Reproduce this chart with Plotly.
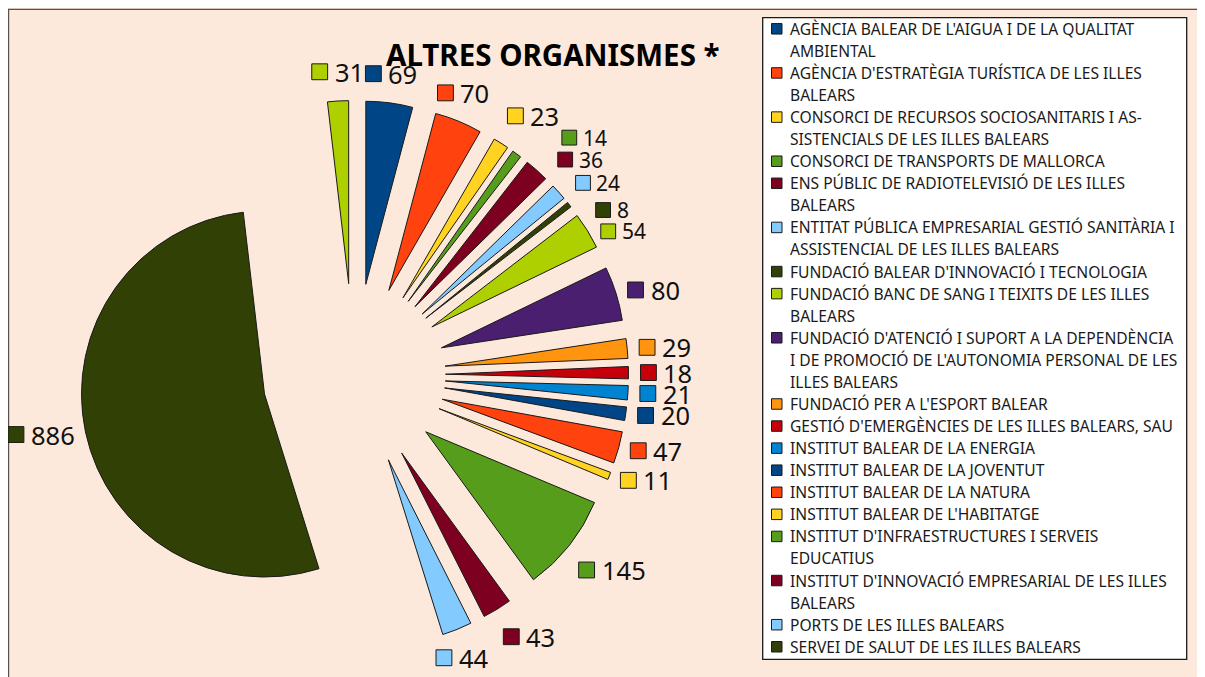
import math
import plotly.graph_objects as go

# ---------------- data ----------------
title_text = "ALTRES ORGANISMES *"

categories = [
    "AGÈNCIA BALEAR DE L'AIGUA I DE LA QUALITAT<br>AMBIENTAL",
    "AGÈNCIA D'ESTRATÈGIA TURÍSTICA DE LES ILLES<br>BALEARS",
    "CONSORCI DE RECURSOS SOCIOSANITARIS I AS-<br>SISTENCIALS DE LES ILLES BALEARS",
    "CONSORCI DE TRANSPORTS DE MALLORCA",
    "ENS PÚBLIC DE RADIOTELEVISIÓ DE LES ILLES<br>BALEARS",
    "ENTITAT PÚBLICA EMPRESARIAL GESTIÓ SANITÀRIA I<br>ASSISTENCIAL DE LES ILLES BALEARS",
    "FUNDACIÓ BALEAR D'INNOVACIÓ I TECNOLOGIA",
    "FUNDACIÓ BANC DE SANG I TEIXITS DE LES ILLES<br>BALEARS",
    "FUNDACIÓ D'ATENCIÓ I SUPORT A LA DEPENDÈNCIA<br>I DE PROMOCIÓ DE L'AUTONOMIA PERSONAL DE LES<br>ILLES BALEARS",
    "FUNDACIÓ PER A L'ESPORT BALEAR",
    "GESTIÓ D'EMERGÈNCIES DE LES ILLES BALEARS, SAU",
    "INSTITUT BALEAR DE LA ENERGIA",
    "INSTITUT BALEAR DE LA JOVENTUT",
    "INSTITUT BALEAR DE LA NATURA",
    "INSTITUT BALEAR DE L'HABITATGE",
    "INSTITUT D'INFRAESTRUCTURES I SERVEIS<br>EDUCATIUS",
    "INSTITUT D'INNOVACIÓ EMPRESARIAL DE LES ILLES<br>BALEARS",
    "PORTS DE LES ILLES BALEARS",
    "SERVEI DE SALUT DE LES ILLES BALEARS",
    "SERVEIS DE MILLORA AGRÀRIA I PESQUERA",
]

values = [69, 70, 23, 14, 36, 24, 8, 54, 80, 29, 18, 21, 20, 47, 11, 145, 43, 44, 886, 31]

# ---------------- styles ----------------
palette = ["#004586", "#ff420e", "#ffd320", "#579d1c", "#7e0021", "#83caff",
           "#314004", "#aecf00", "#4b1f6f", "#ff950e", "#c5000b", "#0084d1"]
colors = [palette[i % len(palette)] for i in range(len(values))]

BG = "#fde9db"
EDGE = "#1a1a1a"
FONT = "Noto Sans"
W, H = 1205, 677
OFF = 8  # page offset of the figure inside the browser window

# pie geometry (window pixels)
CX, CY, R, PULL = 354, 375, 183, 0.5
LABEL_GAP = 12

# data-label font sizes and small manual nudges for the crowded group
label_sizes = [25.5, 25.5, 25.5, 21, 21, 21, 21, 21, 25.5, 25.5, 25.5, 25.5, 25.5, 25.5,
               25.5, 25.5, 25.5, 25.5, 25.5, 25.5]
label_nudge = {3: (38, 7.5), 4: (13, 12.5), 5: (8, 13), 6: (17, 27), 7: (3, 21)}


def px(x):
    return (x - OFF) / W


def py(y):
    return 1 - (y - OFF) / H


fig = go.Figure()

half = R * (1 + PULL)
dom_x = [px(CX - half), px(CX + half)]
dom_y = [py(CY + half), py(CY - half)]

plain_labels = [c.replace("-<br>", "").replace("<br>", " ") for c in categories]

fig.add_trace(go.Pie(
    labels=plain_labels,
    values=values,
    sort=False,
    direction="clockwise",
    rotation=0,
    pull=[PULL] * len(values),
    marker=dict(colors=colors, line=dict(color=EDGE, width=1)),
    textinfo="none",
    showlegend=False,
    domain=dict(x=dom_x, y=dom_y),
    hovertemplate="%{label}: %{value}<extra></extra>",
))

shapes = []
annotations = []

# chart frame (left / top border)
shapes.append(dict(type="rect", xref="paper", yref="paper", layer="below",
                   x0=px(8.6), x1=px(W + 40), y0=py(H + 40), y1=py(9.4),
                   fillcolor=BG, line=dict(color="#5a5050", width=1.2)))

# ---------------- data labels ----------------
total = float(sum(values))
cum = 0.0
for i, v in enumerate(values):
    mid = (cum + v / 2) / total * 360.0
    cum += v
    th = math.radians(mid)
    ux, uy = math.sin(th), -math.cos(th)
    rl = R * (1 + PULL) + LABEL_GAP
    ax, ay = CX + rl * ux, CY + rl * uy
    fs = label_sizes[i]
    sq = 10 + 0.23 * fs
    gap = 0.24 * fs
    txt = str(v)
    w = sq + gap + len(txt) * 0.572 * fs
    h = 1.35 * fs
    k = int(((mid + 22.5) % 360) // 45)
    if k == 0:
        left, cy = ax - w / 2, ay - h / 2
    elif k == 1:
        left, cy = ax, ay - h / 2
    elif k == 2:
        left, cy = ax, ay
    elif k == 3:
        left, cy = ax, ay + h / 2
    elif k == 4:
        left, cy = ax - w / 2, ay + h / 2
    elif k == 5:
        left, cy = ax - w, ay + h / 2
    elif k == 6:
        left, cy = ax - w, ay
    else:
        left, cy = ax - w, ay - h / 2
    dx, dy = label_nudge.get(i, (0, 0))
    left += dx
    cy += dy
    shapes.append(dict(type="rect", xref="paper", yref="paper",
                       x0=px(left), x1=px(left + sq), y0=py(cy + sq / 2), y1=py(cy - sq / 2),
                       fillcolor=colors[i], line=dict(color=EDGE, width=1)))
    annotations.append(dict(xref="paper", yref="paper", x=px(left + sq + gap), y=py(cy),
                            xanchor="left", yanchor="middle", text=txt, showarrow=False,
                            font=dict(family=FONT, size=fs, color="#111111"),
                            borderpad=0))

# ---------------- title ----------------
annotations.append(dict(xref="paper", yref="paper", x=px(552.5), y=py(55),
                        xanchor="center", yanchor="middle",
                        text="<b>" + title_text + "</b>", showarrow=False,
                        font=dict(family=FONT, size=29.5, color="#000000")))

# ---------------- legend (drawn manually; box clips the last entry) ----------------
LX0, LY0, LX1, LY1 = 762.7, 17.7, 1186.7, 659.3
shapes.append(dict(type="rect", xref="paper", yref="paper",
                   x0=px(LX0), x1=px(LX1), y0=py(LY1), y1=py(LY0),
                   fillcolor="#ffffff", line=dict(color="#1a1a1a", width=1.3)))
line_y = 28.8
pitch = 22.07
for i, c in enumerate(categories):
    lines = c.split("<br>")
    if line_y + (len(lines) - 1) * pitch > LY1 - 8:
        break
    shapes.append(dict(type="rect", xref="paper", yref="paper",
                       x0=px(771.5), x1=px(782), y0=py(line_y + 5.25), y1=py(line_y - 5.25),
                       fillcolor=colors[i], line=dict(color=EDGE, width=1)))
    for ln in lines:
        annotations.append(dict(xref="paper", yref="paper", x=px(788.5), y=py(line_y),
                                xanchor="left", yanchor="middle", text=ln, showarrow=False,
                                font=dict(family=FONT, size=15.6, color="#1a1a1a"),
                                borderpad=0))
        line_y += pitch

fig.update_layout(
    width=W, height=H,
    margin=dict(l=0, r=0, t=0, b=0),
    paper_bgcolor=BG,
    plot_bgcolor=BG,
    shapes=shapes,
    annotations=annotations,
    showlegend=False,
)

fig.write_html("out.html")
